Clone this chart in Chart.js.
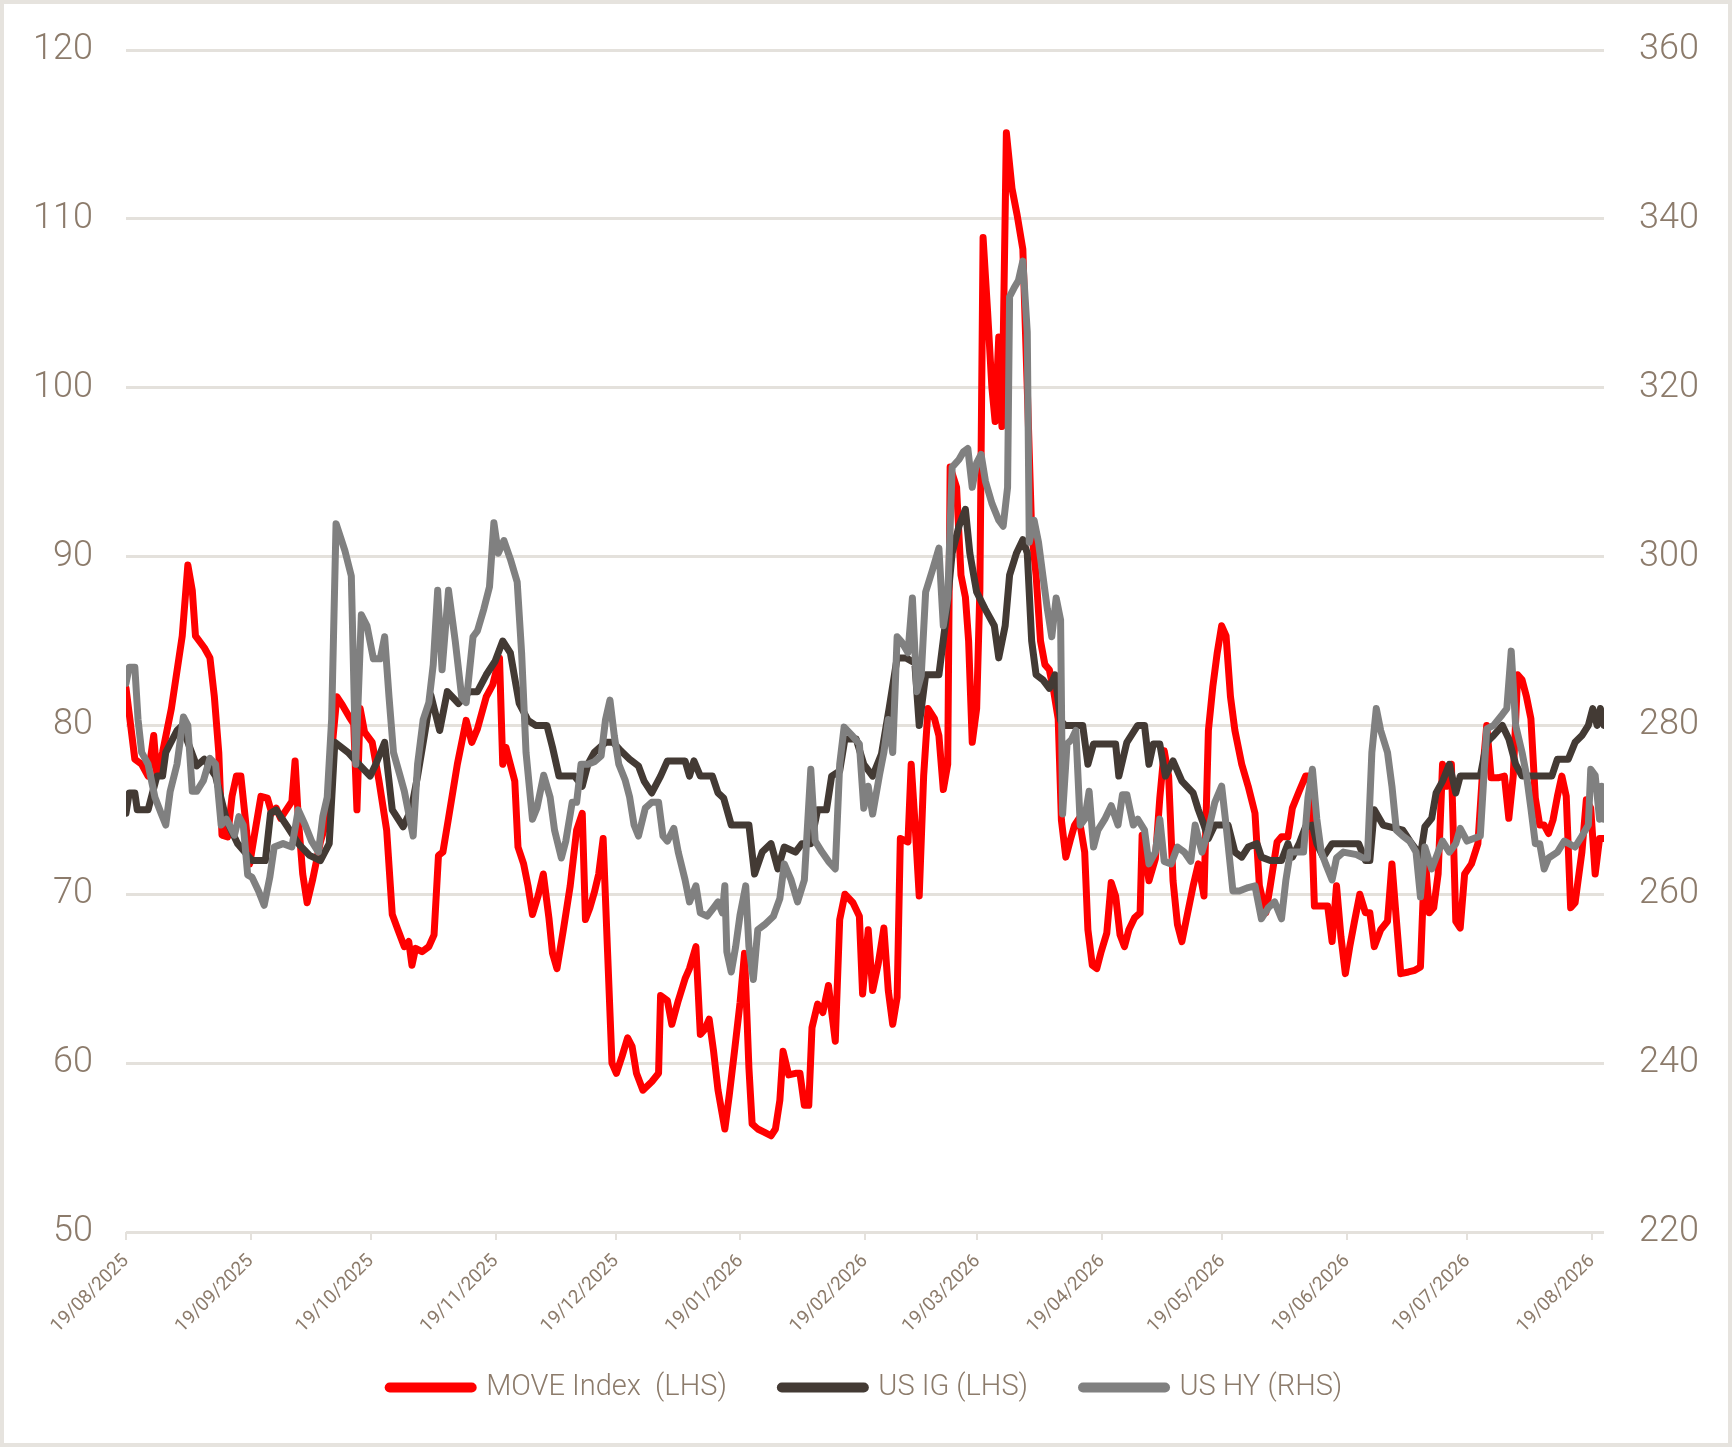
<!DOCTYPE html>
<html>
<head>
<meta charset="utf-8">
<script src="https://cdn.jsdelivr.net/npm/chart.js@4.4.1/dist/chart.umd.min.js"></script>
<style>
  html, body { margin: 0; padding: 0; background: #fff; }
  #wrap { width: 1732px; height: 1447px; box-sizing: border-box; border: 4px solid #e6e3de; }
  canvas { display: block; }
</style>
</head>
<body>
<div id="wrap"><canvas id="chart" width="1724" height="1439" style="width:1724px;height:1439px"></canvas></div>
<script>
// x = days since 19/08/2025, y = level
const moveSeries = [[0,82.2],[0.8,80.7],[2.2,78],[3.9,77.7],[5.5,77],[6.9,79.4],[7.7,77],[9.1,78.4],[11.3,81],[14,85.3],[15.4,89.5],[16.5,88],[17.3,85.3],[19.5,84.6],[20.9,84],[22,81.7],[23.1,78.4],[23.9,73.5],[25.3,73.4],[26.4,75.8],[27.5,77],[28.6,77],[29.7,74.5],[30.8,71.8],[31.9,73.4],[33.6,75.8],[35.2,75.7],[36.3,74.8],[37.4,75.1],[38.5,74.5],[39.9,75],[41.3,75.5],[42.1,77.9],[42.9,74.5],[44,71.2],[45.1,69.5],[46.5,70.9],[48.4,73.1],[50.1,74.5],[51.2,78.4],[52.5,81.7],[53.9,81.2],[55.6,80.5],[56.7,80.1],[57.5,75],[58.3,81],[59.4,79.6],[61.3,79],[63,76.7],[64.9,73.8],[66.3,68.8],[67.7,67.9],[69.3,66.9],[70.4,67.2],[71.2,65.8],[72.1,66.8],[73.7,66.6],[75.4,66.9],[76.7,67.6],[77.8,72.3],[78.9,72.5],[80.3,74.5],[82.5,77.7],[84.7,80.3],[86.1,79],[87.5,79.8],[89.7,81.7],[91.3,82.4],[93,84],[93.8,77.7],[94.6,78.7],[95.7,77.7],[96.8,76.7],[97.6,72.8],[99,71.8],[100.1,70.5],[101.2,68.8],[102.6,69.9],[103.9,71.2],[105.3,68.6],[106.2,66.5],[107.3,65.6],[108.9,67.9],[110.6,70.5],[112.2,73.8],[113.6,74.8],[114.4,68.5],[115.5,69.2],[116.6,70.1],[117.7,71.2],[118.8,73.3],[119.9,66.6],[121,60],[122.1,59.4],[123.5,60.4],[124.9,61.5],[126,61],[127.1,59.4],[128.7,58.4],[130.9,58.9],[132.6,59.4],[133.1,64],[134.8,63.7],[135.9,62.3],[137.5,63.7],[139.2,65],[140.3,65.6],[141.9,66.9],[143,61.7],[144.1,62],[145.2,62.6],[146.3,60.7],[147.4,58.4],[149.1,56.1],[150.2,58.1],[151.5,60.7],[152.9,63.6],[154,66.5],[155.1,59.7],[155.9,56.4],[157.3,56.1],[159,55.9],[160.6,55.7],[161.7,56.1],[162.8,57.8],[163.6,60.7],[165,59.3],[166.7,59.4],[167.8,59.4],[168.9,57.5],[170,57.5],[170.8,62.1],[172.2,63.5],[173.5,63],[174.9,64.6],[176.6,61.3],[177.7,68.5],[179,70],[181,69.5],[182.6,68.7],[183.4,64.1],[184.8,67.9],[185.9,64.3],[187.3,65.9],[188.7,68],[189.8,64.3],[190.9,62.3],[192,63.9],[192.8,73.3],[194.7,73.1],[195.5,77.7],[196.4,74.4],[197.5,69.9],[198.6,77],[199.7,81],[201.3,80.4],[202.4,79.4],[203.5,76.2],[204.6,77.7],[205.2,95.3],[206.8,94.1],[207.9,88.9],[209,87.6],[209.8,85],[210.7,79],[211.8,81],[212.6,88],[213.4,108.9],[214.5,104.6],[215.6,100],[216.4,98],[217.3,103],[218.1,97.7],[219.2,115.1],[220.6,111.8],[221.9,110.2],[223.3,108.2],[224.4,100],[225.5,91.5],[226.6,88.9],[227.7,85],[228.8,83.6],[229.9,83.3],[231,82],[232.1,80.4],[232.9,74.4],[234,72.2],[235.1,73.2],[236.2,74.1],[237.3,74.5],[238.7,72.5],[239.5,67.9],[240.6,65.8],[241.7,65.6],[242.8,66.6],[244.2,67.7],[245.3,70.7],[246.4,69.9],[247.5,67.6],[248.6,66.9],[249.7,67.9],[251.1,68.6],[252.5,68.9],[253,73.5],[254.7,70.8],[256.3,72.1],[257.4,75.7],[258.5,78.5],[259.6,77],[260.7,70.8],[261.8,68.2],[262.9,67.2],[264,68.5],[265.7,70.5],[267,71.8],[268.4,69.9],[269.5,79.7],[270.6,82.3],[271.7,84.3],[272.8,85.9],[273.9,85.3],[275,81.7],[276.1,79.7],[277.8,77.7],[279.4,76.4],[281.1,74.8],[282.2,70.5],[283.8,68.9],[284.9,70.5],[286.6,73.1],[287.7,73.4],[289.3,73.4],[290.4,75.1],[292.1,76.1],[293.7,77],[294.8,77],[295.9,69.3],[297.6,69.3],[299.2,69.3],[300.3,67.2],[301.4,70.5],[302.5,67.5],[303.6,65.3],[304.7,66.9],[305.8,68.3],[307.2,70],[308.6,68.9],[309.7,68.9],[310.8,66.9],[312.4,67.9],[314.1,68.4],[315.2,71.8],[316.3,68.5],[317.4,65.3],[319.3,65.4],[320.9,65.5],[322.3,65.7],[323.4,72.5],[324.5,68.9],[325.6,69.2],[326.7,71.2],[327.8,77.7],[328.9,76.4],[330,77.7],[331.1,68.4],[332.2,68],[333.3,71.2],[335,71.8],[336.6,73],[337.7,77],[338.8,80],[339.9,76.9],[341.6,76.9],[343.2,77],[344.3,74.5],[345.4,77],[346.5,83],[347.6,82.7],[348.7,81.7],[349.8,80.4],[350.9,75.7],[352,74.1],[353.1,74.1],[354.2,73.6],[355.3,74.4],[356.4,75.8],[357.5,77],[358.6,75.8],[359.7,69.2],[360.8,69.5],[362.5,72.5],[363.6,75.6],[364.7,75.1],[365.8,71.2],[366.9,73.3],[368,73.3]];

const igSeries = [[0,74.8],[0.8,76],[2.2,76],[2.8,75],[5.5,75],[6.6,76],[7.7,77],[9.1,77],[9.9,78.4],[12.7,79.7],[14,80],[15.4,79],[17.6,77.6],[19.5,78],[22.3,77],[25,74.4],[27.8,73],[31.4,72],[34.7,72],[36,74.8],[37.4,75],[40.2,74],[42.9,73],[45.7,72.3],[48.4,72],[50.6,73],[52,79],[55.3,78.4],[58,77.7],[60.8,77],[62.2,77.7],[64.4,79],[66.3,75],[69,74],[71,75],[72.6,77],[74.5,79.7],[75.9,81.8],[78.1,79.7],[80,82],[82.8,81.3],[85.5,82],[87.5,82],[89.7,83],[91.9,83.8],[93.8,85],[95.7,84.3],[97.9,81.3],[100.1,80.3],[102,80],[104.8,80],[106.2,78.7],[107.8,77],[111.7,77],[113.6,76.4],[115,77.7],[116.6,78.4],[119.4,79],[121.3,79],[123.2,78.5],[125.4,78],[127.6,77.6],[129,76.7],[130.9,76],[133.1,77],[134.8,77.9],[139.2,77.9],[140.3,77],[141.4,77.9],[143,77],[146,77],[147.4,76],[148.8,75.7],[150.7,74.1],[155.1,74.1],[156.5,71.2],[158.4,72.5],[160.6,73],[162.3,71.5],[163.9,72.8],[166.7,72.5],[168.3,73],[170.5,73],[172.2,75],[174.4,75],[175.7,77],[177.7,77.3],[179,79.2],[181.8,79.2],[183.7,77.7],[185.9,77],[188.1,78.3],[190,81],[192,84],[194.2,84],[196.4,83.7],[197.5,80],[199.1,83],[202.4,83],[204.1,86.2],[205.7,90.2],[207.4,91.8],[209,92.8],[210.1,90.2],[211.8,87.9],[213.9,86.9],[216.2,85.9],[217.3,84],[218.9,85.9],[220,88.9],[221.7,90.2],[223.3,91],[224.4,90.2],[225.5,85],[226.6,83],[228.3,82.7],[229.9,82.2],[231.3,83],[232.7,80.3],[233.8,80],[238.2,80],[239.5,77.7],[240.9,78.9],[246.4,78.9],[247.2,77],[249.2,79],[251.9,80],[253.6,80],[254.7,77.7],[255.8,78.9],[257.4,78.9],[258.8,77],[260.7,77.9],[262.9,76.7],[265.7,76],[267,75],[268.4,74.1],[269.5,73.3],[271.1,74.1],[274.4,74.1],[276.1,72.5],[277.8,72.2],[279.4,72.8],[281.6,73],[282.7,72.2],[284.9,72],[287.7,72],[289.3,73],[290.4,72.2],[292.1,73],[293.7,74],[295.4,74.1],[296.5,73],[298.1,72.2],[300.3,73],[306.9,73],[308.6,72],[309.7,72],[310.8,75],[313,74.1],[317.9,73.8],[320.1,73],[322.3,72.3],[323.4,74],[325.1,74.5],[326.2,76],[327.8,76.7],[329.5,77.7],[331.1,76],[332.2,77],[337.2,77],[338.8,79],[340.5,79.4],[342.7,80],[344.3,79.2],[346,77.7],[347.6,77],[355,77],[356.4,78],[359.1,78],[360.8,79],[362.5,79.4],[364.1,80],[365.2,81],[366.3,80],[367.1,81],[368,80]];

const hySeries = [[0,285],[0.8,286.9],[2.2,286.9],[3,280.7],[3.9,276.8],[5.5,275.4],[7.2,271.5],[8.8,269.5],[9.9,268.2],[11,272.2],[12.7,275.4],[14.3,281],[15.4,280],[16.5,272.2],[17.6,272.2],[19.3,273.5],[20.9,276.1],[22.3,275.4],[23.7,268.2],[25,268.9],[27,267],[28.1,269.2],[29.2,268.2],[30.3,262.3],[31.4,262],[33,260.4],[34.4,258.7],[35.8,262],[36.9,265.6],[39.1,266],[41.3,265.6],[42.9,270],[44.6,268.2],[46.2,266.3],[47.9,265],[49,269.2],[50.1,271.5],[51.2,280.7],[52.3,303.9],[53.4,302.3],[54.5,300.7],[56.1,297.7],[57.2,275.4],[58.6,293.1],[60,291.8],[61.6,287.9],[63.3,287.9],[64.4,290.5],[65.5,283.3],[66.6,276.8],[68.2,274.1],[69.3,272.2],[71.5,266.9],[72.6,275.4],[74,280.7],[75.4,282.7],[76.5,287.2],[77.6,296],[78.7,286.6],[80.3,296],[82,289.9],[83.6,283.3],[84.7,282.7],[86.4,290.5],[87.5,291.2],[89.1,293.8],[90.5,296.4],[91.6,304],[92.7,300.4],[94.1,301.9],[95.7,299.7],[97.4,297],[98.5,288.6],[99.6,276.8],[101.2,268.9],[102.3,270.2],[104,274.1],[105.6,271.5],[106.7,267.6],[108.4,264.3],[109.5,266.3],[111.1,270.9],[112.2,270.9],[113.3,275.4],[115,275.4],[116.6,275.7],[118.3,276.4],[119.4,280.7],[120.5,283],[121.6,278.7],[122.7,275.4],[124.3,273.5],[125.4,271.5],[126.5,268.2],[127.6,266.9],[129.3,270.2],[130.9,270.9],[132.6,270.9],[133.7,266.9],[134.8,266.3],[136.4,267.8],[137.5,265],[139.2,261.7],[140.3,259.1],[141.9,261],[143,257.8],[144.7,257.4],[146.3,258.4],[147.4,259.1],[148.5,257.8],[149.1,261],[149.6,253.2],[150.7,250.8],[151.8,253.8],[152.9,257.6],[154.3,261],[155.1,253.8],[156.2,249.9],[157.3,255.8],[159,256.4],[161.2,257.4],[162.8,259.5],[163.9,263.6],[165.6,261.7],[167.2,259.1],[168.9,261.7],[170.5,274.8],[171.6,266.3],[173.3,265],[174.9,263.9],[176.6,263],[177.7,275.4],[178.8,279.8],[181,278.7],[182.6,277.8],[183.7,270.2],[184.8,272.8],[185.9,269.5],[187.6,274.1],[188.7,276.8],[189.8,280.7],[190.9,276.8],[192,290.5],[193.1,289.9],[194.7,288.6],[195.8,295.1],[196.9,284],[198,285.9],[199.1,295.8],[200.8,298.4],[202.4,301],[203.5,291.8],[204.6,295.1],[205.7,310.6],[207.4,311.5],[208.5,312.4],[209.6,312.8],[210.7,308.2],[211.8,311.1],[212.9,312.1],[214,308.9],[215.6,306.3],[217.3,304.3],[218.4,303.6],[219.5,308.2],[220,330.8],[221.1,331.8],[222.2,332.7],[223.3,335],[224.4,326.6],[224.9,301.7],[226.1,304.3],[227.2,301.7],[228.3,297.7],[229.4,293.8],[230.5,290.5],[231.6,295.1],[232.7,292.5],[233.2,269.5],[234.3,277.8],[235.4,278.3],[236.5,279.4],[237.6,268.2],[238.7,268.9],[239.8,272.2],[240.9,265.6],[242,267.6],[243.7,268.9],[245.3,270.5],[247,268.2],[248.1,271.8],[249.2,271.8],[250.8,268.2],[251.9,268.9],[253.6,267.6],[254.7,263.6],[256.3,265],[257.4,268.9],[258.5,263.9],[260.2,263.6],[261.8,265.6],[263.5,265],[265.1,263.9],[266.2,268.2],[267.9,265],[269.5,267.6],[271.1,270.9],[272.8,272.8],[273.9,268.2],[275.6,260.4],[277.2,260.4],[279.4,260.8],[281.1,261],[282.7,257.1],[284.4,258.4],[286,259.1],[287.7,257.1],[288.8,261.7],[289.9,265],[293.2,265],[294.3,271.5],[295.4,274.8],[296.5,268.9],[297.6,265],[298.7,263.6],[300.3,261.7],[301.4,264.3],[303.1,265],[306.4,264.7],[308,264.3],[309.1,264.3],[310.2,276.8],[311.3,282],[312.4,279.4],[314.1,276.8],[315.2,272.8],[316.3,267.6],[317.9,266.9],[319.6,266.3],[321.2,265],[322.3,259.7],[323.4,265.6],[325.1,263],[326.7,265],[327.8,266.3],[329.5,265],[331.1,266],[332.2,267.8],[333.9,266.3],[337.2,266.9],[338.8,279.6],[340.5,280],[342.7,281.3],[343.8,282],[344.9,288.8],[346,280],[347.6,276.8],[348.7,274.1],[349.8,270.2],[350.9,266],[352,266],[353.1,263],[354.2,264.3],[356.4,265],[358.1,266.3],[360.8,265.6],[362.5,266.9],[364.1,268.2],[364.7,274.8],[365.8,274.1],[366.9,268.9],[367.4,272.8],[368,268.9]];

const seriesNames = ['MOVE Index  (LHS)', 'US IG (LHS)', 'US HY (RHS)'];
const tickLabels = ['19/08/2025','19/09/2025','19/10/2025','19/11/2025','19/12/2025','19/01/2026',
  '19/02/2026','19/03/2026','19/04/2026','19/05/2026','19/06/2026','19/07/2026','19/08/2026'];

const startDate = Date.UTC(2025, 7, 19);
function dayOf(label) {
  const p = label.split('/');
  return Math.round((Date.UTC(+p[2], +p[1] - 1, +p[0]) - startDate) / 86400000);
}
const tickDays = tickLabels.map(dayOf);
const toXY = s => s.map(p => ({ x: p[0], y: p[1] }));

const textColor = '#8c7b6b';
const gridColor = '#e4e1dc';
Chart.defaults.font.family = 'Roboto, "Noto Sans", sans-serif';
Chart.defaults.font.weight = 300;
Chart.defaults.color = textColor;

// fixed axis widths, and no extra top/bottom room for the y labels
const fixY = w => s => { s.width = w; s.paddingTop = 0; s.paddingBottom = 0; };

const ctx = document.getElementById('chart');
new Chart(ctx, {
  type: 'line',
  data: {
    datasets: [
      { label: seriesNames[0], data: toXY(moveSeries), borderColor: '#ff0000', backgroundColor: '#ff0000', yAxisID: 'y', order: 2 },
      { label: seriesNames[1], data: toXY(igSeries), borderColor: '#433a34', backgroundColor: '#433a34', yAxisID: 'y', order: 1 },
      { label: seriesNames[2], data: toXY(hySeries), borderColor: '#808080', backgroundColor: '#808080', yAxisID: 'y2', order: 0 }
    ]
  },
  options: {
    responsive: false,
    animation: false,
    devicePixelRatio: 1,
    elements: {
      point: { radius: 0 },
      line: { borderWidth: 7, tension: 0, borderJoinStyle: 'round', borderCapStyle: 'round' }
    },
    layout: { padding: { top: 46, left: 0, right: 0, bottom: 31 } },
    scales: {
      x: {
        type: 'linear', min: 0, max: 368,
        afterBuildTicks: s => { s.ticks = tickDays.map(v => ({ value: v })); },
        ticks: {
          autoSkip: false, maxRotation: 45, minRotation: 45, padding: 10,
          font: { size: 19, weight: 400 },
          callback: (v, i) => tickLabels[i]
        },
        grid: { drawOnChartArea: false, color: gridColor, lineWidth: 2, tickLength: 8 },
        border: { display: false },
        afterFit: s => {
          s.height = 86;
          s._computeLabelArea = () => undefined; // let the slanted dates run past the axis box
        }
      },
      y: {
        position: 'left', min: 50, max: 120,
        ticks: { stepSize: 10, padding: 33, font: { size: 36 } },
        grid: { color: gridColor, lineWidth: 3, drawTicks: false },
        border: { display: false },
        afterFit: fixY(122)
      },
      y2: {
        position: 'right', min: 220, max: 360,
        ticks: { stepSize: 20, padding: 35, font: { size: 36 } },
        grid: { drawOnChartArea: false, drawTicks: false },
        border: { display: false },
        afterFit: fixY(124)
      }
    },
    plugins: {
      tooltip: { enabled: false },
      legend: {
        position: 'bottom',
        labels: {
          usePointStyle: true,
          pointStyle: 'line',
          pointStyleWidth: 82,
          padding: 55,
          font: { size: 29 },
          color: textColor,
          sort: (a, b) => a.datasetIndex - b.datasetIndex,
          generateLabels: chart => Chart.defaults.plugins.legend.labels.generateLabels(chart)
            .map(l => Object.assign(l, { lineWidth: 10, lineCap: 'round', pointStyle: 'line' }))
        }
      }
    }
  }
});
</script>
</body>
</html>
